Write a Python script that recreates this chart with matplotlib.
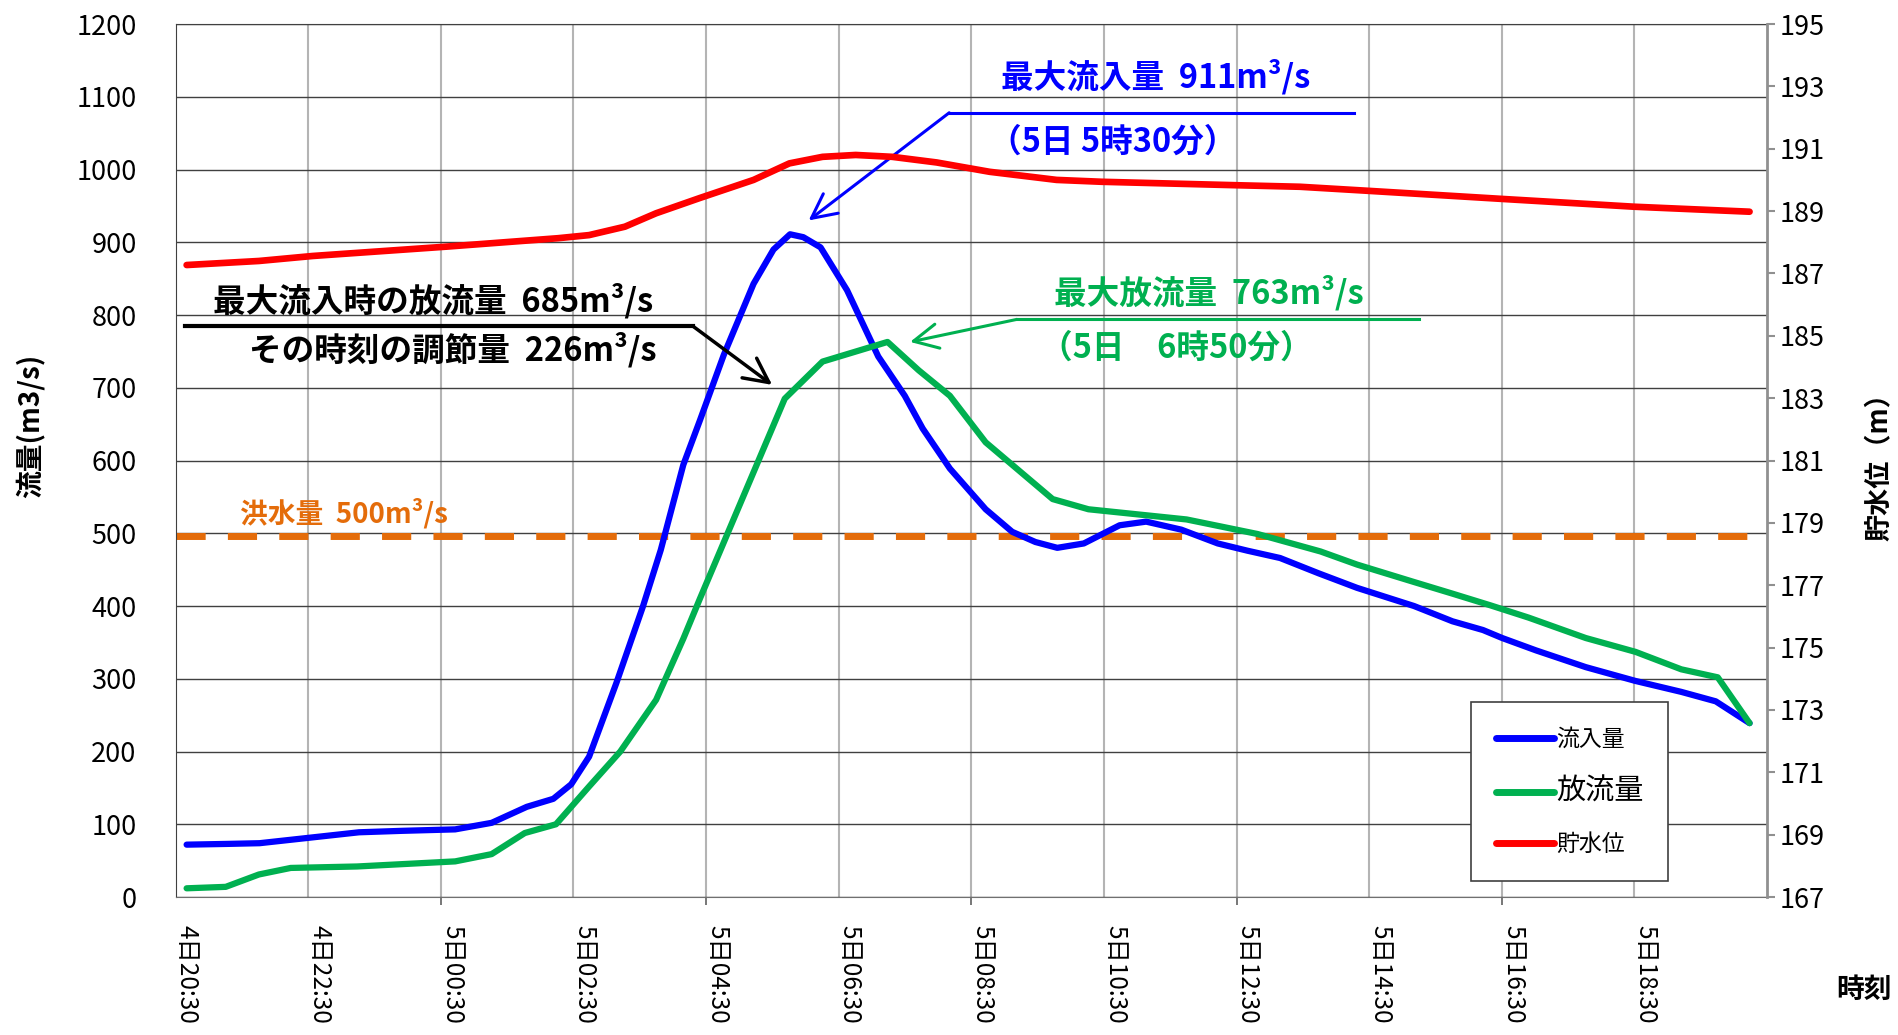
import numpy as np
import matplotlib
matplotlib.use('Agg')
import matplotlib.pyplot as plt
from matplotlib.lines import Line2D

plt.rcParams['font.family'] = ['Noto Sans CJK JP', 'DejaVu Sans']

# hours after 4日20:30
t_in = [0.0, 0.6, 1.1, 1.9, 2.6, 3.25, 4.05, 4.6, 5.13, 5.53, 5.8, 6.07, 6.48, 6.88, 7.15,
        7.49, 7.74, 8.1, 8.55, 8.85, 9.1, 9.3, 9.56, 9.96, 10.43, 10.83, 11.1, 11.51, 12.05,
        12.45, 12.8, 13.13, 13.53, 14.07, 14.47, 15.0, 15.55, 16.0, 16.49, 17.07, 17.65,
        18.51, 19.09, 19.55, 19.84, 20.35, 21.1, 21.85, 22.54, 23.06, 23.57]
q_in = [72, 73, 74, 82, 89, 91, 93, 102, 124, 135, 155, 193, 294, 399, 477,
        594, 655, 745, 843, 890, 911, 907, 893, 834, 743, 689, 644, 589, 533,
        502, 488, 480, 486, 511, 516, 505, 486, 476, 466, 445, 425,
        400, 379, 367, 356, 339, 316, 297, 282, 269, 239]

t_out = [0.0, 0.59, 1.09, 1.57, 2.57, 4.05, 4.6, 5.1, 5.57, 6.07, 6.54, 7.08, 7.49, 7.74,
         9.02, 9.59, 10.57, 11.04, 11.51, 12.05, 13.06, 13.6, 15.08, 16.15, 17.1, 17.65,
         18.51, 19.09, 19.66, 20.24, 21.1, 21.85, 22.54, 23.09, 23.57]
q_out = [12, 14, 31, 40, 42, 49, 59, 88, 100, 152, 200, 271, 355, 410,
         685, 736, 763, 724, 689, 625, 547, 533, 519, 499, 475, 457,
         433, 417, 401, 384, 356, 337, 313, 302, 239]

t_lv = [0.0, 1.09, 1.9, 3.92, 5.6, 6.07, 6.61, 7.08, 7.74, 8.55, 9.09, 9.59, 10.09, 10.64,
        11.31, 12.11, 13.12, 13.8, 15.82, 16.79, 17.82, 19.84, 21.83, 23.57]
h_lv = [187.27, 187.4, 187.56, 187.86, 188.13, 188.23, 188.5, 188.93, 189.42, 190.0, 190.53,
        190.74, 190.8, 190.74, 190.56, 190.26, 190.0, 189.94, 189.83, 189.78, 189.65,
        189.39, 189.14, 188.98]

flood_q = 500

tick_hours = list(range(0, 24, 2))
tick_labels = ['4日20:30', '4日22:30', '5日00:30', '5日02:30', '5日04:30', '5日06:30',
               '5日08:30', '5日10:30', '5日12:30', '5日14:30', '5日16:30', '5日18:30']

BLUE = '#0000FF'
GREEN = '#00B050'
RED = '#FF0000'
ORANGE = '#E46C0A'

fig = plt.figure(figsize=(18.98, 10.35), dpi=100)
ax = fig.add_axes([0.0925, 0.1333, 0.8385, 0.8435])
ax2 = ax.twinx()

ax.set_xlim(-1/6, 23 + 5/6)
ax.set_ylim(0, 1200)
ax.set_yticks(range(0, 1201, 100))
ax.set_xticks(tick_hours)
ax.set_xticklabels(tick_labels, rotation=-90, ha='center', va='top', fontsize=17.5)
ax.set_xticks([h - 1/6 for h in tick_hours[1:]], minor=True)
ax.tick_params(axis='x', which='major', length=0, pad=20)
ax.tick_params(axis='x', which='minor', length=6, width=1.2, color='#606060')
for i, tk in enumerate(ax.xaxis.get_minor_ticks()):
    tk.tick1line.set_visible(i % 2 == 1)
ax.tick_params(axis='y', length=0, pad=28, labelsize=19.5)
ax.grid(axis='x', which='minor', color='#b4b4b4', lw=1.5)
ax.grid(axis='y', which='major', color='#404040', lw=1)
ax.set_axisbelow(True)

ax.spines['left'].set_color('#404040')
ax.spines['top'].set_color('#404040')
ax.spines['bottom'].set_color('#707070')
ax.spines['right'].set_visible(False)
for s in ['left', 'top', 'bottom']:
    ax2.spines[s].set_visible(False)
ax2.spines['right'].set_color('#909090')
ax2.spines['right'].set_linewidth(2)

ax2.set_ylim(167, 195)
ax2.set_yticks(range(167, 196, 2))
ax2.tick_params(axis='y', direction='out', length=6, width=1.5, color='#909090',
                pad=3, labelsize=19.5)

ax.axhline(flood_q - 4, color=ORANGE, lw=5, linestyle=(0, (4.2, 3.2)))
ax.plot(t_in, q_in, color=BLUE, lw=4.5, solid_capstyle='round', solid_joinstyle='round')
ax.plot(t_out, q_out, color=GREEN, lw=4.5, solid_capstyle='round', solid_joinstyle='round')
ax2.plot(t_lv, h_lv, color=RED, lw=4.8, solid_capstyle='round', solid_joinstyle='round')

# annotations
i_in = int(np.argmax(q_in))
i_out = int(np.argmax(q_out))
arrow = '->,head_length=0.8,head_width=0.4'

ax.plot([11.5, 17.6], [1078, 1078], color=BLUE, lw=2.2)
ax.annotate('', xy=(t_in[i_in] + 0.28, q_in[i_in] + 19), xytext=(11.5, 1078),
            arrowprops=dict(arrowstyle=arrow, color=BLUE, lw=2.2, shrinkA=0, shrinkB=0,
                            mutation_scale=22))
ax.text(14.62, 1128, f'最大流入量  {q_in[i_in]}m³/s', color=BLUE, fontsize=23.5,
        fontweight='bold', ha='center', va='center')
ax.text(13.96, 1038, '（5日 5時30分）', color=BLUE, fontsize=23.5,
        fontweight='bold', ha='center', va='center')

ax.plot([12.52, 18.58], [794, 794], color=GREEN, lw=2.2)
ax.annotate('', xy=(t_out[i_out] + 0.34, q_out[i_out]), xytext=(12.52, 794),
            arrowprops=dict(arrowstyle=arrow, color=GREEN, lw=2.2, shrinkA=0, shrinkB=0,
                            mutation_scale=22))
ax.text(15.42, 830, f'最大放流量  {q_out[i_out]}m³/s', color=GREEN, fontsize=23.5,
        fontweight='bold', ha='center', va='center')
ax.text(14.93, 754, '（5日　6時50分）', color=GREEN, fontsize=23.5,
        fontweight='bold', ha='center', va='center')

ax.plot([-0.02, 7.63], [785, 785], color='black', lw=3)
ax.annotate('', xy=(8.83, 704), xytext=(7.63, 785),
            arrowprops=dict(arrowstyle=arrow, color='black', lw=2.5, shrinkA=0, shrinkB=0,
                            mutation_scale=22))
ax.text(3.72, 820, '最大流入時の放流量  685m³/s', color='black', fontsize=23.5,
        fontweight='bold', ha='center', va='center')
ax.text(4.01, 752, 'その時刻の調節量  226m³/s', color='black', fontsize=23.5,
        fontweight='bold', ha='center', va='center')

ax.text(2.37, 527, f'洪水量  {flood_q}m³/s', color=ORANGE, fontsize=20,
        fontweight='bold', ha='center', va='center')

# axis titles
fig.text(30/1898, 1 - 426/1035, '流量(m3/s)', rotation=90, fontsize=20,
         fontweight='bold', ha='center', va='center')
fig.text(1879/1898, 1 - 460/1035, '貯水位（m）', rotation=90, fontsize=19.5,
         fontweight='bold', ha='center', va='center')
fig.text(1864/1898, 1 - 990/1035, '時刻', fontsize=20,
         fontweight='bold', ha='center', va='center')

handles = [Line2D([], [], color=c, lw=5, solid_capstyle='round') for c in (BLUE, GREEN, RED)]
leg = ax2.legend(handles, ['流入量', '放流量', '貯水位'], loc='upper left',
                 bbox_to_anchor=(0.814, 0.223), borderaxespad=0, fontsize=16.5,
                 handlelength=2.5, handletextpad=0.1, labelspacing=1.15, borderpad=1.1,
                 fancybox=False, edgecolor='#404040', framealpha=1)
leg.get_texts()[1].set_fontsize(21)
leg.get_frame().set_linewidth(1.2)
leg.set_zorder(10)

plt.savefig('out.png', dpi=100)
